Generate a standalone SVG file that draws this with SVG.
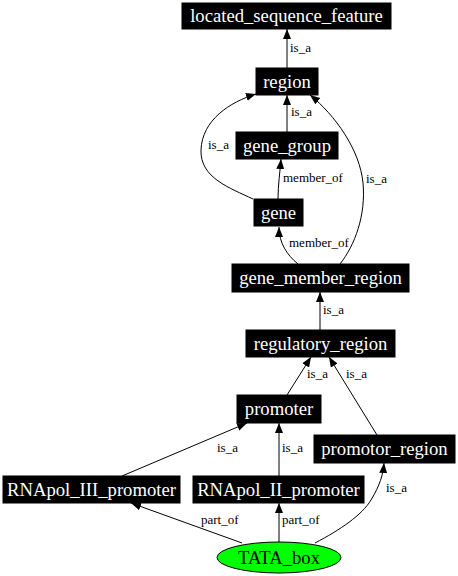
<svg xmlns="http://www.w3.org/2000/svg" width="458" height="576" viewBox="0 0 458 576">
<style>
.box{fill:#000;stroke:#000;stroke-width:1}
.nl{font-family:"Liberation Serif","Times New Roman",serif;font-size:18.67px;fill:#fff;text-anchor:middle}
.el{font-family:"Liberation Serif","Times New Roman",serif;font-size:13px;fill:#000}
.e{fill:none;stroke:#000;stroke-width:1;marker-end:url(#arr)}
</style>
<defs>
<marker id="arr" markerUnits="userSpaceOnUse" markerWidth="10" markerHeight="10" viewBox="0 0 10 8" refX="10" refY="4" orient="auto">
<path d="M0,0 L10,4 L0,8 Z" fill="#000"/>
</marker>
</defs>
<rect width="458" height="576" fill="#fff"/>
<g id="edges">
<path class="e" d="M287,68 L287,29"/>
<text class="el" x="290" y="52">is_a</text>
<path class="e" d="M287,132 L287,95"/>
<text class="el" x="291" y="116">is_a</text>
<path class="e" d="M278,199 C278,185 280,172 281,159"/>
<text class="el" x="283" y="182">member_of</text>
<path class="e" d="M253,199 C230,188 200,178 201,150 C202,120 230,102 256,94"/>
<text class="el" x="208" y="149">is_a</text>
<path class="e" d="M340,264 C355,245 366,215 363,183 C360,150 335,115 310,95"/>
<text class="el" x="366" y="183">is_a</text>
<path class="e" d="M298,264 C287,255 279,243 279,227"/>
<text class="el" x="289" y="247">member_of</text>
<path class="e" d="M320,330 L320,292"/>
<text class="el" x="323" y="314">is_a</text>
<path class="e" d="M287,395 L311,357"/>
<text class="el" x="307" y="378">is_a</text>
<path class="e" d="M377,435 L329,357"/>
<text class="el" x="346" y="378">is_a</text>
<path class="e" d="M122,476 L247,423"/>
<text class="el" x="217" y="452">is_a</text>
<path class="e" d="M279,476 L279,423"/>
<text class="el" x="282" y="452">is_a</text>
<path class="e" d="M242,543 L131,503"/>
<text class="el" x="201" y="524">part_of</text>
<path class="e" d="M279,542 L279,503"/>
<text class="el" x="282" y="524">part_of</text>
<path class="e" d="M315,543 C340,530 362,515 371,500 C380,485 383,475 384,463"/>
<text class="el" x="386" y="492">is_a</text>
</g>
<g id="located_sequence_feature"><rect class="box" x="182" y="3" width="209" height="26"/><text class="nl" x="286.5" y="22">located_sequence_feature</text></g>
<g id="region"><rect class="box" x="256" y="68" width="62" height="27"/><text class="nl" x="287" y="87.5">region</text></g>
<g id="gene_group"><rect class="box" x="236" y="132" width="102" height="27"/><text class="nl" x="287" y="151.5">gene_group</text></g>
<g id="gene"><rect class="box" x="254" y="199" width="49" height="27"/><text class="nl" x="278.5" y="218.5">gene</text></g>
<g id="gene_member_region"><rect class="box" x="232" y="264" width="177" height="28"/><text class="nl" x="320.5" y="284">gene_member_region</text></g>
<g id="regulatory_region"><rect class="box" x="246" y="330" width="149" height="27"/><text class="nl" x="320.5" y="349.5">regulatory_region</text></g>
<g id="promoter"><rect class="box" x="237" y="395" width="84" height="28"/><text class="nl" x="279" y="415">promoter</text></g>
<g id="promotor_region"><rect class="box" x="314" y="435" width="141" height="28"/><text class="nl" x="384.5" y="455">promotor_region</text></g>
<g id="RNApol_III_promoter"><rect class="box" x="3" y="476" width="177" height="27"/><text class="nl" x="91.5" y="495.5">RNApol_III_promoter</text></g>
<g id="RNApol_II_promoter"><rect class="box" x="193" y="476" width="171" height="27"/><text class="nl" x="278.5" y="495.5">RNApol_II_promoter</text></g>
<g id="TATA_box"><ellipse cx="279" cy="557.5" rx="62" ry="15.5" fill="#00ff00" stroke="#000" stroke-width="1"/><text class="nl" x="279" y="563.5" style="fill:#000">TATA_box</text></g>
</svg>
